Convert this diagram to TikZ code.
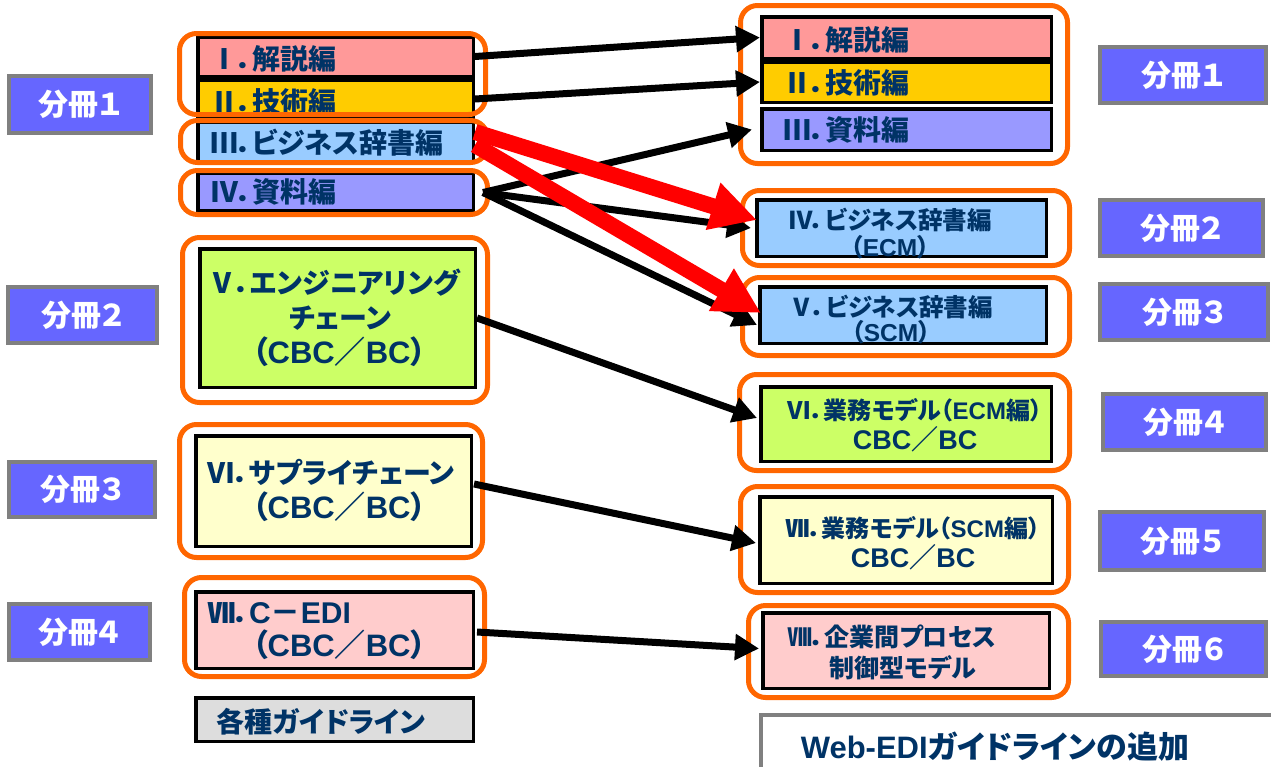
\documentclass[tikz,border=0pt]{standalone}
\usepackage{fontspec}
\setmainfont{Noto Sans CJK JP}[RawFeature=+palt]
\newfontfamily\latf{Liberation Sans}
\usetikzlibrary{arrows.meta,calc}
\definecolor{pinkA}{HTML}{FF9999}
\definecolor{goldA}{HTML}{FFCC00}
\definecolor{lblue}{HTML}{99CCFF}
\definecolor{lavA}{HTML}{9999FF}
\definecolor{limeA}{HTML}{CCFF66}
\definecolor{creamA}{HTML}{FFFFCC}
\definecolor{lpink}{HTML}{FFCCCC}
\definecolor{gfill}{HTML}{DDDDDD}
\definecolor{orng}{HTML}{FF6600}
\definecolor{navy}{HTML}{003366}
\definecolor{volblue}{HTML}{6666FF}
\definecolor{grayb}{HTML}{808080}
\definecolor{redA}{HTML}{FF0000}
\newcommand\fs[2]{\fontsize{#1}{#2}\selectfont}
\newcommand\lat[1]{{\latf #1}}
\tikzset{
  bk/.style={draw=black, line width=3.5pt, inner sep=0pt},
  frm/.style={draw=orng, line width=5pt, rounded corners=17pt, inner sep=0pt},
  vol/.style={draw=grayb, line width=4pt, fill=volblue, inner sep=0pt, text=white, font=\bfseries\fs{30}{36}},
  txt/.style={text=navy, inner sep=0pt, font=\bfseries\fs{28}{34}},
  blk/.style={draw=black, line width=7pt, -{Triangle[length=24pt,width=25pt]}},
  redarr/.style={draw=redA, line width=16pt, -{Triangle[length=46pt,width=46pt]}},
}
\begin{document}
\begin{tikzpicture}[x=1pt,y=-1pt]
\useasboundingbox (0,0) rectangle (1271,766);
\clip (0,0) rectangle (1271,766);
% volume labels
\node[vol, minimum width=142pt, minimum height=57pt] (vL1) at (80,104.5) {分冊１};
\node[vol, minimum width=149pt, minimum height=56pt] (vL2) at (82.5,315) {分冊２};
\node[vol, minimum width=146pt, minimum height=55pt] (vL3) at (82,489.5) {分冊３};
\node[vol, minimum width=141pt, minimum height=56pt] (vL4) at (79.5,632) {分冊４};
\node[vol, minimum width=166pt, minimum height=56pt] (vR1) at (1183,75) {分冊１};
\node[vol, minimum width=163pt, minimum height=56pt] (vR2) at (1181.5,228) {分冊２};
\node[vol, minimum width=168pt, minimum height=56pt] (vR3) at (1184,312) {分冊３};
\node[vol, minimum width=163pt, minimum height=56pt] (vR4) at (1184.5,422) {分冊４};
\node[vol, minimum width=164pt, minimum height=58pt] (vR5) at (1182,541) {分冊５};
\node[vol, minimum width=165pt, minimum height=54pt] (vR6) at (1183.5,649) {分冊６};
% left boxes
\node[bk, fill=pinkA, minimum width=275.5pt, minimum height=39.5pt] (lI) at (335.5,56.5) {};
\node[bk, fill=goldA, minimum width=275.5pt, minimum height=38.5pt] (lII) at (335.5,99) {};
\node[bk, fill=lblue, minimum width=275.5pt, minimum height=40.5pt] (lIII) at (335.5,142) {};
\node[bk, fill=lavA, minimum width=275.5pt, minimum height=37.5pt] (lIV) at (335.5,191.5) {};
\node[bk, fill=limeA, minimum width=275.5pt, minimum height=138.5pt] (lV) at (337.5,318) {};
\node[bk, fill=creamA, minimum width=275.5pt, minimum height=110.5pt] (lVI) at (333.5,491) {};
\node[bk, fill=lpink, minimum width=277.5pt, minimum height=76.5pt] (lVII) at (334.5,630) {};
\node[bk, fill=gfill, minimum width=277.5pt, minimum height=43.5pt] (guide) at (334.5,719.5) {};
% right boxes
\node[bk, fill=pinkA, minimum width=289.5pt, minimum height=41.5pt] (rI) at (906.5,37.5) {};
\node[bk, fill=goldA, minimum width=289.5pt, minimum height=40.5pt] (rII) at (906.5,82) {};
\node[bk, fill=lavA, minimum width=289.5pt, minimum height=41.5pt] (rIII) at (906.5,129.5) {};
\node[bk, fill=lblue, minimum width=289.5pt, minimum height=56.5pt] (rIV) at (901.5,228) {};
\node[bk, fill=lblue, minimum width=286.5pt, minimum height=56.5pt] (rV) at (903,315) {};
\node[bk, fill=limeA, minimum width=290.5pt, minimum height=74.5pt] (rVI) at (906,424) {};
\node[bk, fill=creamA, minimum width=292.5pt, minimum height=86.5pt] (rVII) at (906,540) {};
\node[bk, fill=lpink, minimum width=286.5pt, minimum height=75.5pt] (rVIII) at (906,650.5) {};
\node[draw=grayb, line width=3.5pt, fill=white, inner sep=0pt, minimum width=512.5pt, minimum height=68.5pt] (web) at (1017,749) {};
% texts
\node[txt, anchor=west] (tlI) at (210,59) {Ⅰ．解説編};
\node[txt, anchor=west] (tlII) at (210,102) {Ⅱ．技術編};
\node[txt, anchor=west] (tlIII) at (210,143) {Ⅲ．ビジネス辞書編};
\node[txt, anchor=west] (tlIV) at (210,192) {Ⅳ．資料編};
\node[txt, anchor=west, align=left, font=\bfseries\fs{28}{35}] (tlV) at (208,318)
  {Ⅴ．エンジニアリング\\\hspace*{81pt}チェーン\\\hspace*{44pt}{\fs{31}{35}（\lat{CBC}／\lat{BC}）}};
\node[txt, anchor=west, align=left, font=\bfseries\fs{28}{35}] (tlVI) at (207,490.5)
  {Ⅵ．サプライチェーン\\\hspace*{45pt}{\fs{31}{35}（\lat{CBC}／\lat{BC}）}};
\node[txt, anchor=west, align=left, font=\bfseries\fs{28}{33}] (tlVII) at (207,631.5)
  {Ⅶ．{\fs{30}{33}\lat{C}－\lat{EDI}}\\\hspace*{45pt}{\fs{31}{33}（\lat{CBC}／\lat{BC}）}};
\node[txt] (tguide) at (321,722) {各種ガイドライン};
\node[txt, anchor=west] (trI) at (783,40) {Ⅰ．解説編};
\node[txt, anchor=west] (trII) at (783,83) {Ⅱ．技術編};
\node[txt, anchor=west] (trIII) at (783,130) {Ⅲ．資料編};
\node[txt, align=center, font=\bfseries\fs{24.5}{27}] (trIV) at (890,233.5)
  {Ⅳ．ビジネス辞書編\\（\lat{ECM}）};
\node[txt, align=center, font=\bfseries\fs{24.5}{25}] (trV) at (891,319.5)
  {Ⅴ．ビジネス辞書編\\（\lat{SCM}）};
\node[txt, align=center, font=\bfseries\fs{24}{30}] (trVI) at (915,425)
  {Ⅵ．業務モデル（\lat{ECM}編）\\{\fs{27}{30}\lat{CBC}／\lat{BC}}};
\node[txt, align=center, font=\bfseries\fs{24}{30}] (trVII) at (913,543)
  {Ⅶ．業務モデル（\lat{SCM}編）\\{\fs{27}{30}\lat{CBC}／\lat{BC}}};
\node[txt, anchor=west, align=left, font=\bfseries\fs{25}{31}] (trVIII) at (787,652.5)
  {Ⅷ．企業間プロセス\\\hspace*{42pt}制御型モデル};
\node[txt, font=\bfseries\fs{31}{34}] (tweb) at (995,747) {\lat{Web-EDI}ガイドラインの追加};
% orange frames
\node[frm, minimum width=306pt, minimum height=81pt] (oL1) at (332.5,74) {};
\node[frm, minimum width=307pt, minimum height=42pt] (oL2) at (334,141.5) {};
\node[frm, minimum width=307pt, minimum height=44pt] (oL3) at (334,192.5) {};
\node[frm, minimum width=305pt, minimum height=165pt] (oL4) at (335,320) {};
\node[frm, minimum width=303pt, minimum height=133pt] (oL5) at (331,491) {};
\node[frm, minimum width=300pt, minimum height=99pt] (oL6) at (334.5,627) {};
\node[frm, minimum width=327pt, minimum height=158pt] (oR1) at (904,84.5) {};
\node[frm, minimum width=327pt, minimum height=75pt] (oR2) at (906,228) {};
\node[frm, minimum width=327pt, minimum height=78pt] (oR3) at (906,316.5) {};
\node[frm, minimum width=330pt, minimum height=96pt] (oR4) at (904.5,422.5) {};
\node[frm, minimum width=328pt, minimum height=106pt] (oR5) at (904.5,539.5) {};
\node[frm, minimum width=320pt, minimum height=92pt] (oR6) at (908.5,651.5) {};
% arrows
\coordinate (s4) at ($(lIV.east)+(8,1)$);
\draw[blk] (lI.east) -- (rI.west);
\draw[blk] (lII.east) -- (rII.west);
\draw[blk] (s4) -- ($(rIII.west)+(-8,0)$);
\draw[blk] (s4) -- ($(rIV.west)+(-4,0)$);
\draw[blk] (s4) -- ($(rV.west)+(-1,10)$);
\draw[blk] (lV.east) -- ($(rVI.west)+(-2,-6)$);
\draw[blk] ($(lVI.east)+(1,-7)$) -- ($(rVII.west)+(-2,3)$);
\draw[blk] ($(lVII.east)+(2,2)$) -- ($(rVIII.west)+(-2,-2)$);
\draw[redarr] ($(lIII.east)+(0,-10)$) -- ($(rIV.west)+(2,-8)$);
\draw[redarr] ($(lIII.east)+(0,3)$) -- ($(rV.west)+(3,-2)$);
\end{tikzpicture}
\end{document}
